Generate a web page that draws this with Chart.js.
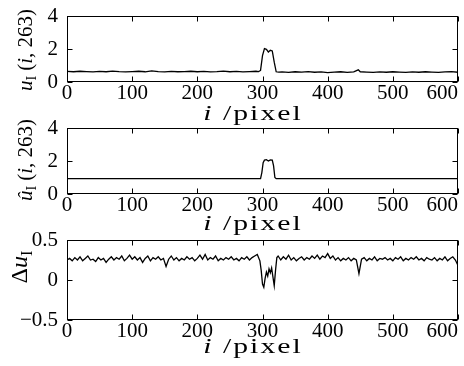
<!DOCTYPE html>
<html>
<head>
<meta charset="utf-8">
<script src="https://cdn.jsdelivr.net/npm/chart.js@4.4.0/dist/chart.umd.min.js"></script>
<style>
  html, body { margin: 0; padding: 0; background: #fff; }
  #wrap { position: relative; width: 464px; height: 366px; overflow: hidden; }
  #wrap canvas { position: absolute; left: 0; top: 0; }
</style>
</head>
<body>
<div id="wrap">
  <canvas id="rawChart" width="464" height="366"></canvas>
  <canvas id="fitChart" width="464" height="366"></canvas>
  <canvas id="diffChart" width="464" height="366"></canvas>
</div>
<script>
// Row 263 profile: raw intensity u_I(i, 263)
const rawX = [0, 10, 20, 30, 40, 50, 60, 70, 80, 90, 100, 110, 120, 130, 140, 150, 160, 170, 180, 190,
    200, 210, 220, 230, 240, 250, 260, 270, 280, 290,
    294, 297, 300, 303, 306, 309, 312, 315, 318, 321, 325,
    330, 340, 350, 360, 370, 380, 390, 400, 410, 420, 430, 440, 447, 450,
    460, 470, 480, 490, 500, 510, 520, 530, 540, 550, 560, 570, 580, 590, 600];
const rawU = [0.64, 0.62, 0.65, 0.63, 0.61, 0.64, 0.62, 0.66, 0.63, 0.61, 0.63, 0.65, 0.62, 0.67, 0.63, 0.61, 0.64, 0.62, 0.63, 0.65,
    0.62, 0.64, 0.61, 0.63, 0.66, 0.62, 0.64, 0.61, 0.63, 0.65,
    0.63, 0.70, 1.60, 2.02, 1.98, 1.82, 1.92, 1.88, 1.20, 0.62, 0.60,
    0.61, 0.58, 0.62, 0.60, 0.63, 0.59, 0.61, 0.57, 0.60, 0.62, 0.58, 0.61, 0.74, 0.62,
    0.60, 0.58, 0.61, 0.59, 0.62, 0.60, 0.58, 0.61, 0.59, 0.62, 0.60, 0.58, 0.61, 0.63, 0.59];

// Estimated profile û_I(i, 263)
const fitX = [0, 297, 299, 301, 303, 306, 309, 312, 315, 317, 319, 321, 600];
const fitU = [0.93, 0.93, 1.30, 1.90, 2.05, 2.08, 2.00, 2.07, 2.05, 1.70, 1.00, 0.93, 0.93];

// Difference Δu_I
const diffX = [0, 4, 8, 12, 16, 20, 24, 28, 32, 36, 40, 44, 48, 52, 56, 60, 64, 68, 72, 76,
    80, 84, 88, 92, 96, 100, 104, 108, 112, 116, 120, 124, 128, 132, 136, 140, 144, 148, 152, 156,
    160, 164, 168, 172, 176, 180, 184, 188, 192, 196, 200, 204, 208, 212, 216, 220, 224, 228, 232, 236,
    240, 244, 248, 252, 256, 260, 264, 268, 272, 276, 280, 284, 288, 292, 296,
    298, 300, 302, 304, 306, 308, 310, 312, 314, 316, 318, 320, 322,
    324, 328, 332, 336, 340, 344, 348, 352, 356, 360, 364, 368, 372, 376, 380, 384, 388, 392, 396, 400,
    404, 408, 412, 416, 420, 424, 428, 432, 436, 440, 444, 448, 452, 456, 460, 464, 468, 472, 476, 480,
    484, 488, 492, 496, 500, 504, 508, 512, 516, 520, 524, 528, 532, 536, 540, 544, 548, 552, 556, 560,
    564, 568, 572, 576, 580, 584, 588, 592, 596, 600];
const diffU = [0.25, 0.27, 0.24, 0.28, 0.25, 0.29, 0.24, 0.27, 0.30, 0.25,
    0.26, 0.23, 0.28, 0.25, 0.27, 0.22, 0.26, 0.29, 0.25, 0.28,
    0.26, 0.30, 0.24, 0.27, 0.31, 0.26, 0.29, 0.25, 0.28, 0.22,
    0.27, 0.30, 0.24, 0.28, 0.26, 0.29, 0.25, 0.27, 0.17, 0.26,
    0.30, 0.25, 0.28, 0.24, 0.27, 0.25, 0.29, 0.26, 0.28, 0.24,
    0.27, 0.31, 0.26, 0.32, 0.25, 0.28, 0.26, 0.30, 0.24, 0.27,
    0.25, 0.28, 0.26, 0.29, 0.25, 0.27, 0.24, 0.28, 0.26, 0.29,
    0.25, 0.28, 0.30, 0.32, 0.24,
    0.12, -0.05, -0.09, 0.02, 0.10, 0.05, 0.14, 0.09, 0.15, 0.04, -0.07, 0.12, 0.28,
    0.30, 0.25, 0.29, 0.26, 0.31, 0.25, 0.28, 0.24, 0.27, 0.29,
    0.25, 0.28, 0.26, 0.30, 0.27, 0.31, 0.26, 0.30, 0.28, 0.33,
    0.27, 0.30, 0.25, 0.28, 0.24, 0.27, 0.25, 0.28, 0.24, 0.27,
    0.25, 0.08, 0.26, 0.28, 0.24, 0.27, 0.25, 0.29, 0.24, 0.27,
    0.26, 0.28, 0.25, 0.27, 0.24, 0.28, 0.26, 0.29, 0.24, 0.27,
    0.25, 0.28, 0.26, 0.29, 0.25, 0.27, 0.24, 0.28, 0.26, 0.25,
    0.28, 0.24, 0.27, 0.25, 0.29, 0.24, 0.27, 0.29, 0.25, 0.18];

const FONT = "'Liberation Serif', 'DejaVu Serif', serif";
const W = 464, H = 366;
const X_AXIS_H = 30; // room for the x tick labels (labels are clipped to this box)

// frame box with inward ticks, MATLAB style
const framePlugin = {
    id: 'frame',
    beforeDraw(chart) {
        // 'inner' keeps the last label inside; re-centre the first one on its tick
        const items = chart.scales.x.getLabelItems(chart.chartArea);
        if (items.length) items[0].options.textAlign = 'center';
    },
    afterDraw(chart) {
        const { ctx, chartArea: a, scales } = chart;
        const L = Math.round(a.left) + 0.5, R = Math.round(a.right) - 0.5;
        const T = Math.round(a.top) + 0.5, B = Math.round(a.bottom) - 0.5;
        const tl = 5;
        ctx.save();
        ctx.strokeStyle = '#000';
        ctx.lineWidth = 1;
        ctx.strokeRect(L, T, R - L, B - T);
        ctx.beginPath();
        scales.x.ticks.forEach(t => {
            const px = Math.round(scales.x.getPixelForValue(t.value)) + 0.5;
            ctx.moveTo(px, B); ctx.lineTo(px, B - tl);
            ctx.moveTo(px, T); ctx.lineTo(px, T + tl);
        });
        scales.y.ticks.forEach(t => {
            const py = Math.round(scales.y.getPixelForValue(t.value)) + 0.5;
            ctx.moveTo(L, py); ctx.lineTo(L + tl, py);
            ctx.moveTo(R, py); ctx.lineTo(R - tl, py);
        });
        ctx.stroke();
        ctx.restore();
    }
};

// draw a run of text pieces (italic, subscript...) centred on 0
function drawParts(ctx, parts) {
    let total = 0;
    parts.forEach(p => { ctx.font = p.f; total += ctx.measureText(p.t).width; });
    let x = -total / 2;
    parts.forEach(p => {
        ctx.font = p.f;
        ctx.fillText(p.t, x, p.dy || 0);
        x += ctx.measureText(p.t).width;
    });
}

const titlePlugin = {
    id: 'titles',
    afterDraw(chart, args, opts) {
        const { ctx } = chart;
        ctx.save();
        ctx.fillStyle = '#000';
        ctx.textBaseline = 'alphabetic';
        ctx.textAlign = 'left';
        // y title, rotated
        ctx.save();
        ctx.translate(opts.yTitleX, opts.yTitleY);
        ctx.rotate(-Math.PI / 2);
        drawParts(ctx, opts.yParts);
        ctx.restore();
        // x title, drawn wide like the original
        ctx.save();
        ctx.translate(opts.xTitleX, opts.xTitleY);
        ctx.scale(1.35, 1);
        ctx.letterSpacing = '1.5px';
        drawParts(ctx, [
            { t: 'i', f: 'italic 22px ' + FONT },
            { t: ' /pixel', f: '22px ' + FONT }
        ]);
        ctx.restore();
        ctx.restore();
    }
};

const it = 'italic 21px ' + FONT;
const rm = '21px ' + FONT;
const sub = '14px ' + FONT;

function tickFmt(v) {
    if (v < 0) return '\u2212' + Math.abs(v);
    return String(v);
}

function makePanel(id, xs, ys, cfg) {
    const pts = xs.map((x, k) => ({ x: x, y: ys[k] }));
    new Chart(document.getElementById(id).getContext('2d'), {
        type: 'line',
        data: {
            datasets: [{
                data: pts,
                borderColor: '#000',
                borderWidth: 1.3,
                pointRadius: 0,
                tension: 0,
                fill: false
            }]
        },
        options: {
            responsive: false,
            animation: false,
            events: [],
            layout: { padding: { top: cfg.top, bottom: H - cfg.bottom - X_AXIS_H, left: 0, right: 6 } },
            plugins: {
                legend: { display: false },
                tooltip: { enabled: false },
                titles: cfg.titles
            },
            scales: {
                x: {
                    type: 'linear',
                    min: 0,
                    max: 600,
                    grid: { display: false, drawTicks: false },
                    border: { display: false },
                    ticks: {
                        stepSize: 100,
                        align: 'inner',
                        padding: 1,
                        maxRotation: 0,
                        autoSkip: false,
                        color: '#000',
                        font: { family: FONT, size: 21, lineHeight: 1 }
                    },
                    afterFit(scale) {
                        scale.height = X_AXIS_H;
                        scale.paddingLeft = 0;
                        scale.paddingRight = 0;
                    }
                },
                y: {
                    min: cfg.yMin,
                    max: cfg.yMax,
                    grid: { display: false, drawTicks: false },
                    border: { display: false },
                    ticks: {
                        stepSize: cfg.yStep,
                        padding: 9,
                        color: '#000',
                        font: { family: FONT, size: 21, lineHeight: 1 },
                        callback: tickFmt
                    },
                    afterFit(scale) {
                        scale.width = 67;
                        scale.paddingTop = 0;
                        scale.paddingBottom = 0;
                    }
                }
            }
        },
        plugins: [framePlugin, titlePlugin]
    });
}

makePanel('rawChart', rawX, rawU, {
    top: 16, bottom: 82, yMin: 0, yMax: 4, yStep: 2,
    titles: {
        yTitleX: 32, yTitleY: 50, xTitleX: 253, xTitleY: 120,
        yParts: [
            { t: 'u', f: it }, { t: 'I', f: sub, dy: 4 }, { t: ' (', f: rm },
            { t: 'i', f: it }, { t: ', 263)', f: rm }
        ]
    }
});

makePanel('fitChart', fitX, fitU, {
    top: 128, bottom: 194, yMin: 0, yMax: 4, yStep: 2,
    titles: {
        yTitleX: 32, yTitleY: 160, xTitleX: 253, xTitleY: 230,
        yParts: [
            { t: '\u00fb', f: it }, { t: 'I', f: sub, dy: 4 }, { t: ' (', f: rm },
            { t: 'i', f: it }, { t: ', 263)', f: rm }
        ]
    }
});

makePanel('diffChart', diffX, diffU, {
    top: 240, bottom: 320, yMin: -0.5, yMax: 0.5, yStep: 0.5,
    titles: {
        yTitleX: 27, yTitleY: 267, xTitleX: 253, xTitleY: 353,
        yParts: [
            { t: '\u0394', f: '24px ' + FONT }, { t: 'u', f: 'italic 24px ' + FONT },
            { t: 'I', f: '16px ' + FONT, dy: 5 }
        ]
    }
});
</script>
</body>
</html>
